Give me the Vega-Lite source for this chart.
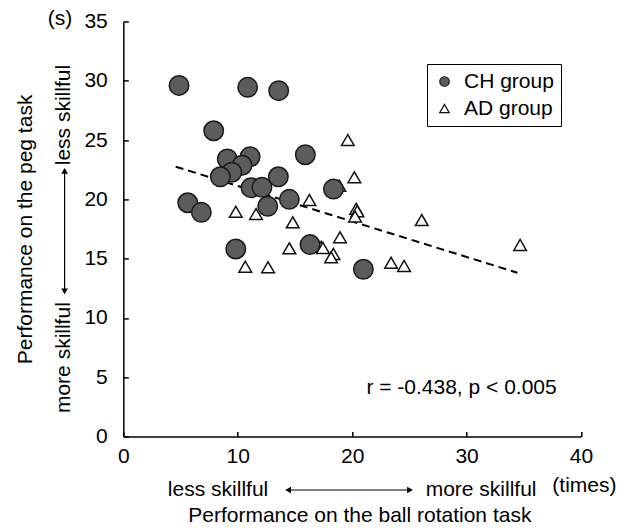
{
  "$schema": "https://vega.github.io/schema/vega-lite/v6.json",
  "width": 457.7,
  "height": 415.1,
  "autosize": {"type": "none"},
  "padding": {"left": 123.3, "top": 21.4, "right": 48, "bottom": 94.5},
  "background": "white",
  "config": {
    "view": {"stroke": null},
    "font": "Liberation Sans",
    "axis": {
      "grid": false,
      "labelFlush": false,
      "labelOverlap": false,
      "domainColor": "black",
      "domainWidth": 1.5,
      "tickColor": "black",
      "tickWidth": 1.5,
      "tickSize": -5,
      "labelFont": "Liberation Sans",
      "labelFontSize": 21,
      "labelColor": "black",
      "titleFont": "Liberation Sans",
      "titleFontSize": 21,
      "titleFontWeight": "normal",
      "titleColor": "black"
    },
    "legend": {
      "labelFont": "Liberation Sans",
      "labelFontSize": 21,
      "labelColor": "black",
      "title": null,
      "orient": "none",
      "legendX": 303.7,
      "legendY": 42.6,
      "strokeColor": "black",
      "padding": 7,
      "rowPadding": 5,
      "labelOffset": 9,
      "symbolSize": 90,
      "symbolStrokeWidth": 1.2
    }
  },
  "datasets": {
    "points": [
      {"group": "AD group", "x": 16.26, "y": 19.94},
      {"group": "AD group", "x": 9.83, "y": 18.95},
      {"group": "AD group", "x": 11.6, "y": 18.76},
      {"group": "AD group", "x": 14.81, "y": 18.06},
      {"group": "AD group", "x": 14.51, "y": 15.87},
      {"group": "AD group", "x": 10.66, "y": 14.32},
      {"group": "AD group", "x": 12.65, "y": 14.27},
      {"group": "AD group", "x": 19.62, "y": 25.0},
      {"group": "AD group", "x": 20.19, "y": 21.86},
      {"group": "AD group", "x": 18.88, "y": 21.15},
      {"group": "AD group", "x": 20.35, "y": 19.2},
      {"group": "AD group", "x": 20.45, "y": 19.0},
      {"group": "AD group", "x": 20.25, "y": 18.55},
      {"group": "AD group", "x": 26.08, "y": 18.25},
      {"group": "AD group", "x": 18.94, "y": 16.8},
      {"group": "AD group", "x": 17.3, "y": 16.0},
      {"group": "AD group", "x": 17.45, "y": 15.9},
      {"group": "AD group", "x": 18.36, "y": 15.39},
      {"group": "AD group", "x": 18.16, "y": 15.11},
      {"group": "AD group", "x": 23.4, "y": 14.65},
      {"group": "AD group", "x": 24.54, "y": 14.38},
      {"group": "AD group", "x": 34.68, "y": 16.15},
      {"group": "CH group", "x": 4.87, "y": 29.6},
      {"group": "CH group", "x": 10.87, "y": 29.44},
      {"group": "CH group", "x": 13.58, "y": 29.16},
      {"group": "CH group", "x": 7.9, "y": 25.78},
      {"group": "CH group", "x": 15.91, "y": 23.76},
      {"group": "CH group", "x": 9.09, "y": 23.4},
      {"group": "CH group", "x": 11.08, "y": 23.59},
      {"group": "CH group", "x": 10.38, "y": 22.87},
      {"group": "CH group", "x": 9.48, "y": 22.28},
      {"group": "CH group", "x": 8.48, "y": 21.9},
      {"group": "CH group", "x": 13.55, "y": 21.9},
      {"group": "CH group", "x": 11.16, "y": 20.98},
      {"group": "CH group", "x": 12.12, "y": 21.01},
      {"group": "CH group", "x": 14.51, "y": 20.0},
      {"group": "CH group", "x": 5.63, "y": 19.71},
      {"group": "CH group", "x": 6.82, "y": 18.9},
      {"group": "CH group", "x": 12.62, "y": 19.41},
      {"group": "CH group", "x": 9.83, "y": 15.81},
      {"group": "CH group", "x": 16.32, "y": 16.18},
      {"group": "CH group", "x": 18.36, "y": 20.86},
      {"group": "CH group", "x": 20.98, "y": 14.1}
    ],
    "fit": [
      {"x": 4.58, "y": 22.75},
      {"x": 34.44, "y": 13.81}
    ],
    "hnotes": [
      {"x": -5.53, "y": 35.24, "text": "(s)"},
      {"x": 8.28, "y": -4.51, "text": "less skillful"},
      {"x": 31.27, "y": -4.51, "text": "more skillful"},
      {"x": 40.3, "y": -4.18, "text": "(times)"},
      {"x": 29.56, "y": 4.09, "text": "r = -0.438, p < 0.005"}
    ],
    "vnotes": [
      {"x": -5.18, "y": 27.1, "text": "less skillful"},
      {"x": -5.18, "y": 6.65, "text": "more skillful"}
    ],
    "arrows": [
      {"x": 14.4, "y": -4.51, "x2": 25.06, "y2": -4.51},
      {"x": -5.13, "y": 22.39, "x2": -5.13, "y2": 12.23}
    ],
    "heads": [
      {"x": 14.4, "y": -4.51, "dir": "left"},
      {"x": 25.06, "y": -4.51, "dir": "right"},
      {"x": -5.13, "y": 22.39, "dir": "up"},
      {"x": -5.13, "y": 12.23, "dir": "down"}
    ]
  },
  "encoding": {
    "x": {
      "field": "x",
      "type": "quantitative",
      "scale": {"domain": [0, 40], "nice": false, "zero": false},
      "axis": {
        "title": "Performance on the ball rotation task",
        "values": [0, 10, 20, 30, 40],
        "labelPadding": 14,
        "titleX": 236,
        "titleY": 79,
        "titleBaseline": "middle"
      }
    },
    "y": {
      "field": "y",
      "type": "quantitative",
      "scale": {"domain": [0, 35], "nice": false, "zero": false},
      "axis": {
        "title": "Performance on the peg task",
        "values": [0, 5, 10, 15, 20, 25, 30, 35],
        "labelPadding": 21,
        "titleX": -98,
        "titleBaseline": "middle"
      }
    }
  },
  "layer": [
    {
      "data": {"name": "fit"},
      "mark": {"type": "line", "color": "black", "strokeWidth": 2, "strokeDash": [8, 5]},
      "encoding": {}
    },
    {
      "data": {"name": "points"},
      "transform": [{"filter": {"field": "group", "equal": "AD group"}}],
      "mark": {"type": "point", "filled": true, "strokeWidth": 1.5, "opacity": 1, "size": 160},
      "encoding": {
        "shape": {
          "field": "group",
          "type": "nominal",
          "scale": {"domain": ["CH group", "AD group"], "range": ["circle", "triangle-up"]}
        },
        "fill": {
          "field": "group",
          "type": "nominal",
          "scale": {"domain": ["CH group", "AD group"], "range": ["#5c5c5c", "#ffffff"]}
        },
        "stroke": {
          "field": "group",
          "type": "nominal",
          "scale": {"domain": ["CH group", "AD group"], "range": ["#1a1a1a", "#111111"]}
        }
      }
    },
    {
      "data": {"name": "points"},
      "transform": [{"filter": {"field": "group", "equal": "CH group"}}],
      "mark": {"type": "point", "filled": true, "strokeWidth": 1.5, "opacity": 1, "size": 380},
      "encoding": {
        "shape": {"field": "group", "type": "nominal"},
        "fill": {"field": "group", "type": "nominal"},
        "stroke": {"field": "group", "type": "nominal"}
      }
    },
    {
      "data": {"name": "arrows"},
      "mark": {"type": "rule", "color": "black", "strokeWidth": 1.2},
      "encoding": {
        "x2": {"field": "x2"},
        "y2": {"field": "y2"}
      }
    },
    {
      "data": {"name": "heads"},
      "transform": [{"filter": {"field": "dir", "equal": "left"}}],
      "mark": {"type": "point", "filled": true, "color": "black", "size": 45, "opacity": 1, "shape": "triangle-left"}
    },
    {
      "data": {"name": "heads"},
      "transform": [{"filter": {"field": "dir", "equal": "right"}}],
      "mark": {"type": "point", "filled": true, "color": "black", "size": 45, "opacity": 1, "shape": "triangle-right"}
    },
    {
      "data": {"name": "heads"},
      "transform": [{"filter": {"field": "dir", "equal": "up"}}],
      "mark": {"type": "point", "filled": true, "color": "black", "size": 45, "opacity": 1, "shape": "triangle-up"}
    },
    {
      "data": {"name": "heads"},
      "transform": [{"filter": {"field": "dir", "equal": "down"}}],
      "mark": {"type": "point", "filled": true, "color": "black", "size": 45, "opacity": 1, "shape": "triangle-down"}
    },
    {
      "data": {"name": "hnotes"},
      "mark": {"type": "text", "font": "Liberation Sans", "fontSize": 21, "color": "black", "align": "center", "baseline": "middle"},
      "encoding": {"text": {"field": "text"}}
    },
    {
      "data": {"name": "vnotes"},
      "mark": {"type": "text", "font": "Liberation Sans", "fontSize": 21, "color": "black", "align": "center", "baseline": "middle", "angle": 270},
      "encoding": {"text": {"field": "text"}}
    }
  ]
}
